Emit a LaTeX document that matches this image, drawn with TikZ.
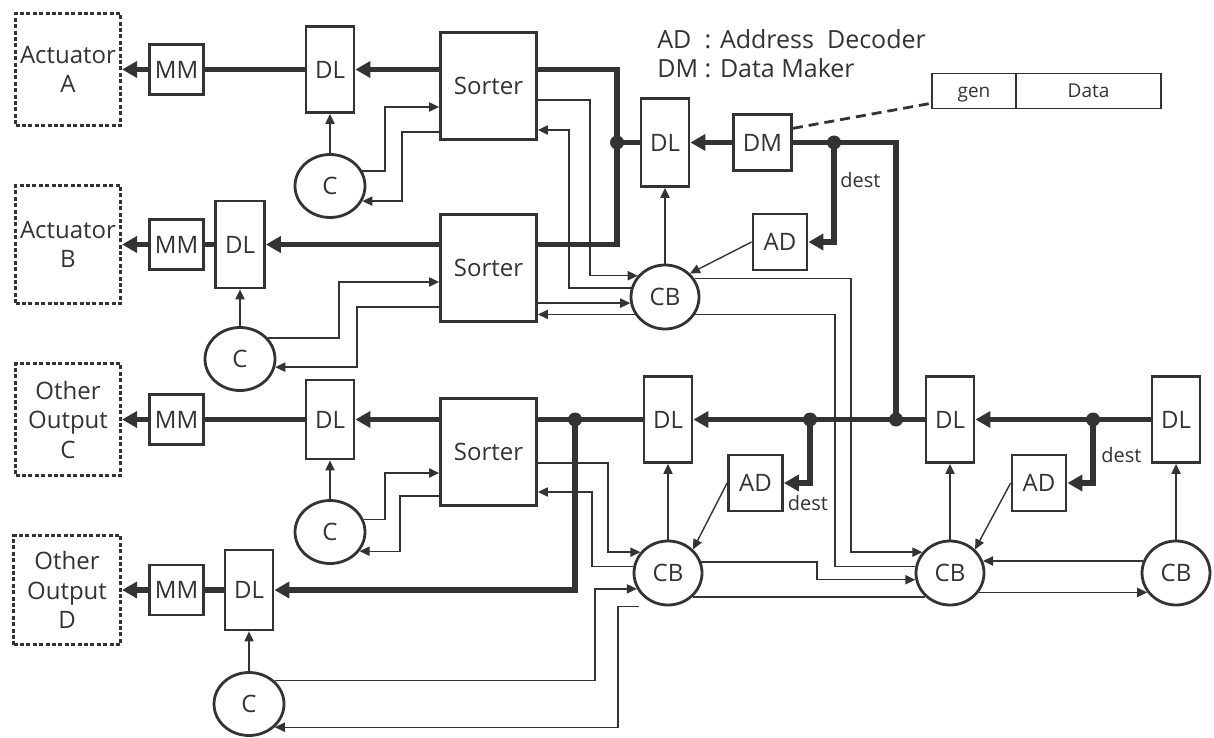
\documentclass[tikz,border=0pt]{standalone}
\usepackage{fontspec}
\setmainfont{Open Sans}
\usetikzlibrary{positioning, arrows.meta, shapes.geometric}
\definecolor{ink}{HTML}{333333}

\begin{document}
\begin{tikzpicture}[
  x=0.5pt, y=-0.5pt,
  blk/.style={draw=ink, line width=1.4pt, fill=white, inner sep=0pt, text=ink,
              font=\fontsize{12}{14.5}\selectfont},
  mm/.style={blk, minimum width=27pt, minimum height=25pt},
  dl/.style={blk, minimum width=24pt, minimum height=43pt},
  sorter/.style={blk, minimum width=48pt, minimum height=53.5pt},
  dm/.style={blk, minimum width=29pt, minimum height=28pt},
  ad/.style={blk, minimum width=27pt, minimum height=28pt},
  cc/.style={blk, ellipse, minimum width=35pt, minimum height=31.5pt},
  cb/.style={blk, ellipse, minimum width=34pt, minimum height=32pt},
  act/.style={draw=ink, line width=1.6pt, dash pattern=on 2pt off 1.2pt,
              inner sep=0pt, align=center, text=ink,
              font=\fontsize{12}{14.75}\selectfont,
              minimum width=52.5pt, minimum height=56pt},
  bus/.style={draw=ink, line width=2.8pt, >={Triangle[length=7.5pt, width=8pt]}},
  sig/.style={draw=ink, line width=0.7pt, >={Triangle[length=5pt, width=4.6pt]}},
  lbl/.style={text=ink, inner sep=0pt, font=\fontsize{10}{12}\selectfont},
  pkt/.style={draw=ink, line width=0.8pt, inner sep=0pt, text=ink,
              text height=1.5ex, text depth=0.3ex,
              minimum height=17.5pt, font=\fontsize{9.5}{11}\selectfont},
]
  \useasboundingbox (0,0) rectangle (1214,738);

  % Outputs
  \node[act] (actA) at (68,69.5) {Actuator\\A};
  \node[act, minimum height=59pt] (actB) at (68,244.5) {Actuator\\B};
  \node[act] (actC) at (68,419.5) {Other\\Output\\C};
  \node[act, minimum width=53.5pt, minimum height=54.5pt] (actD) at (67,590) {Other\\Output\\D};

  % Row A
  \node[mm] (mmA) at (176.5,69.5) {MM};
  \node[dl] (dlA) at (330,69.5) {DL};
  \node[sorter] (sortA) at (488.5,86) {Sorter};
  \node[cc] (cA) at (330,186) {C};

  % Row B
  \node[mm] (mmB) at (176.5,244.5) {MM};
  \node[dl, minimum width=24.5pt, minimum height=43.5pt] (dlB) at (240,244.5) {DL};
  \node[sorter] (sortB) at (488.5,268) {Sorter};
  \node[cc] (cB) at (240,359) {C};

  % Row C
  \node[mm] (mmC) at (176.5,419.5) {MM};
  \node[dl, minimum height=39.5pt] (dlC) at (330,419.5) {DL};
  \node[sorter] (sortC) at (488.5,452) {Sorter};
  \node[cc] (cC) at (330,532) {C};

  % Row D
  \node[mm] (mmD) at (176.5,590) {MM};
  \node[dl, minimum height=40pt] (dlD) at (249,590) {DL};
  \node[cc] (cD) at (249,704) {C};

  % Data maker and delay chain
  \node[dl, minimum height=44pt] (dlM) at (665,142.5) {DL};
  \node[dm] (dm) at (762.5,142.5) {DM};
  \node[ad] (adM) at (780,242) {AD};
  \node[cb] (cb1) at (665,297) {CB};

  \node[dl] (dl3) at (668,419.5) {DL};
  \node[ad] (ad2) at (755.5,483) {AD};
  \node[cb] (cb2) at (668,573) {CB};

  \node[dl] (dl4) at (950,419.5) {DL};
  \node[ad] (ad3) at (1039,483) {AD};
  \node[cb] (cb3) at (950,573) {CB};

  \node[dl] (dl5) at (1176,419.5) {DL};
  \node[cb] (cb4) at (1176,573) {CB};

  % Legend and packet
  \node[anchor=west, inner sep=0pt, text=ink, font=\fontsize{12.5}{14.5}\selectfont]
    (legend) at (657,57) {\begin{tabular}{@{}l@{\ }l@{}}AD & : Address\ \ Decoder\\ DM & : Data Maker\end{tabular}};
  \node[pkt, minimum width=42pt] (gen) at (974,91) {gen};
  \node[pkt, minimum width=72.5pt] (data) at (1088.5,91) {Data};
  \draw[ink, line width=1.4pt, dash pattern=on 5pt off 3pt] (dm.25) -- (gen.196);

  % Junctions
  \coordinate (jA) at (617,142.5);
  \coordinate (jDM) at (834,142.5);
  \coordinate (jC) at (575,419.5);
  \coordinate (j3) at (810,419.5);
  \coordinate (j4) at (896,419.5);
  \coordinate (j5) at (1093,419.5);

  % Buses
  \foreach \r in {A,B,C,D} {
    \draw[bus] (dl\r) -- (mm\r);
    \draw[bus,->] (mm\r) -- (act\r);
  }
  \draw[bus,->] (sortA.west |- dlA) -- (dlA);
  \draw[bus] (sortA.east |- dlA) -| (jA) -- (jA |- dlB) -- (sortB.east |- dlB);
  \draw[bus,->] (sortB.west |- dlB) -- (dlB);
  \draw[bus] (jA) -- (dlM);
  \draw[bus,->] (dm) -- (dlM);
  \draw[bus] (dm) -- (jDM) -| (j4);
  \draw[bus,->] (jDM) |- (adM);
  \draw[bus,->] (dl5) -- (dl4);
  \draw[bus,->] (j5) |- (ad3);
  \draw[bus,->] (dl4) -- (dl3);
  \draw[bus,->] (j3) |- (ad2);
  \draw[bus] (dl3) -- (sortC.east |- dl3);
  \draw[bus,->] (sortC.west |- dlC) -- (dlC);
  \draw[bus,->] (jC) |- (dlD);
  \foreach \j in {jA,jDM,jC,j3,j4,j5} { \fill[ink] (\j) circle (3.5pt); }

  \node[lbl, anchor=west] (dest1) at (840,180) {dest};
  \node[lbl] (dest2) at (808,503) {dest};
  \node[lbl, anchor=west] (dest3) at (1101,455) {dest};

  % Control lines
  \foreach \c/\d in {cA/dlA, cB/dlB, cC/dlC, cD/dlD, cb1/dlM, cb2/dl3, cb3/dl4, cb4/dl5} {
    \draw[sig,->] (\c) -- (\d);
  }
  \draw[sig,->] (cA.25) -| (385,107) -- (sortA.west |- 0,107);
  \draw[sig,->] (sortA.west |- 0,132) -| (402,170) |- (cA.-25);
  \draw[sig,->] (cB.37) -| (339,282) -- (sortB.west |- 0,282);
  \draw[sig,->] (sortB.west |- 0,307) -| (357,340) |- (cB.-13);
  \draw[sig,->] (cC.20) -| (385,473) -- (sortC.west |- 0,473);
  \draw[sig,->] (sortC.west |- 0,496) -| (400,520) |- (cC.-33);

  \draw[sig,->] (adM.west) -- (cb1.north east);
  \draw[sig,->] (ad2.west) -- (cb2.north east);
  \draw[sig,->] (ad3.west) -- (cb3.north east);

  \draw[sig,->] (sortA.east |- 0,100) -| (590,200) |- (cb1.142);
  \draw[sig,->] (cb1.165) -| (569,200) |- (sortA.east |- 0,130);
  \draw[sig,->] (sortB.east |- cb1.190) -- (cb1.190);
  \draw[sig,->] (cb1.210) -- (sortB.east |- cb1.210);
  \draw[sig,->] (cb1.32) -| (851,400) |- (cb3.143);
  \draw[sig] (cb1.-30) -| (835,400) |- (cb3.169);

  \draw[sig,->] (sortC.east |- 0,463) -| (608,500) |- (cb2.143);
  \draw[sig,->] (cb2.169) -| (592,520) |- (sortC.east |- 0,492);
  \draw[sig,->] (cD.42) -| (595,640) |- (cb2.207);
  \draw[sig,->] ([xshift=-14.5pt]cb2.south) -| (618,650) |- (cD.-42);
  \draw[sig,->] (cb2.18) -| (817,570) |- (cb3.191);
  \draw[sig] (cb2.-44) -- (cb3.224);
  \draw[sig,->] (cb4.160) -- (cb3.20);
  \draw[sig,->] (cb3.-34) -- (cb4.214);

\end{tikzpicture}
\end{document}
